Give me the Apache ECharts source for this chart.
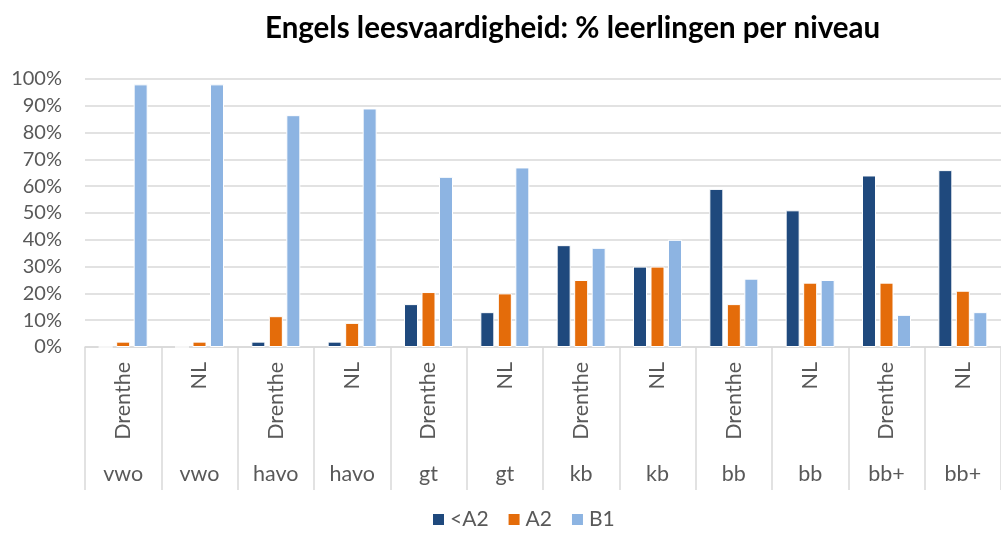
<!DOCTYPE html>
<html>
<head>
<meta charset="utf-8">
<script src="https://cdn.jsdelivr.net/npm/echarts@6/dist/echarts.min.js"></script>
<style>
  html, body { margin: 0; padding: 0; background: #fff; }
  #chart { width: 1001px; height: 535px; }
</style>
</head>
<body>
<div id="chart"></div>
<script>
// regio per staaf, niveau eronder
const regions = ['Drenthe', 'NL', 'Drenthe', 'NL', 'Drenthe', 'NL', 'Drenthe', 'NL', 'Drenthe', 'NL', 'Drenthe', 'NL'];
const levels = ['vwo', 'vwo', 'havo', 'havo', 'gt', 'gt', 'kb', 'kb', 'bb', 'bb', 'bb+', 'bb+'];

const belowA2 = [0, 0, 2, 2, 16, 13, 38, 30, 59, 51, 64, 66];
const a2 = [2, 2, 11.5, 9, 20.5, 20, 25, 30, 16, 24, 24, 21];
const b1 = [98, 98, 86.5, 89, 63.5, 67, 37, 40, 25.5, 25, 12, 13];

const yTicks = [0, 10, 20, 30, 40, 50, 60, 70, 80, 90, 100];

const labelColor = '#595959';
const gridColor = '#d9d9d9';
const font = 'Lato, "Open Sans", sans-serif';

const chart = echarts.init(document.getElementById('chart'));

function barSeries(name, data, color) {
    return {
        name: name,
        type: 'bar',
        data: data,
        barWidth: 14,
        barGap: '25%',
        itemStyle: { color: color, borderColor: '#fff', borderWidth: 1 }
    };
}

const option = {
    animation: false,
    textStyle: { fontFamily: font },
    title: {
        text: 'Engels leesvaardigheid: % leerlingen per niveau',
        left: 260,
        top: 8,
        textStyle: { fontFamily: font, fontSize: 29.5, fontWeight: 'bold', color: '#000' }
    },
    legend: {
        bottom: 0,
        left: 426,
        itemWidth: 13,
        itemHeight: 13,
        itemGap: 18,
        icon: 'rect',
        textStyle: { fontFamily: font, fontSize: 21, color: labelColor }
    },
    grid: { left: 85, top: 79, width: 924, bottom: 188 },
    xAxis: [
        {
            type: 'category',
            data: regions,
            axisLine: { show: true, lineStyle: { color: gridColor, width: 1.5 } },
            axisTick: { show: true, interval: 0, length: 143, lineStyle: { color: gridColor, width: 1.5 } },
            axisLabel: {
                interval: 0,
                rotate: 90,
                margin: 15,
                fontFamily: font,
                fontSize: 21.5,
                color: labelColor
            }
        },
        {
            type: 'category',
            position: 'bottom',
            data: levels,
            axisLine: { show: false },
            axisTick: { show: false },
            axisLabel: {
                interval: 0,
                margin: 116,
                fontFamily: font,
                fontSize: 21.5,
                color: labelColor
            }
        }
    ],
    yAxis: {
        type: 'value',
        min: yTicks[0],
        max: yTicks[yTicks.length - 1],
        interval: 10,
        axisLine: { show: false },
        axisTick: { show: false },
        splitLine: { lineStyle: { color: gridColor, width: 1.5 } },
        axisLabel: {
            margin: 23,
            fontFamily: font,
            fontSize: 20,
            color: labelColor,
            formatter: '{value}%'
        }
    },
    series: [
        barSeries('<A2', belowA2, '#1F497D'),
        barSeries('A2', a2, '#E46C0A'),
        barSeries('B1', b1, '#8DB4E2')
    ]
};

chart.setOption(option);
</script>
</body>
</html>
